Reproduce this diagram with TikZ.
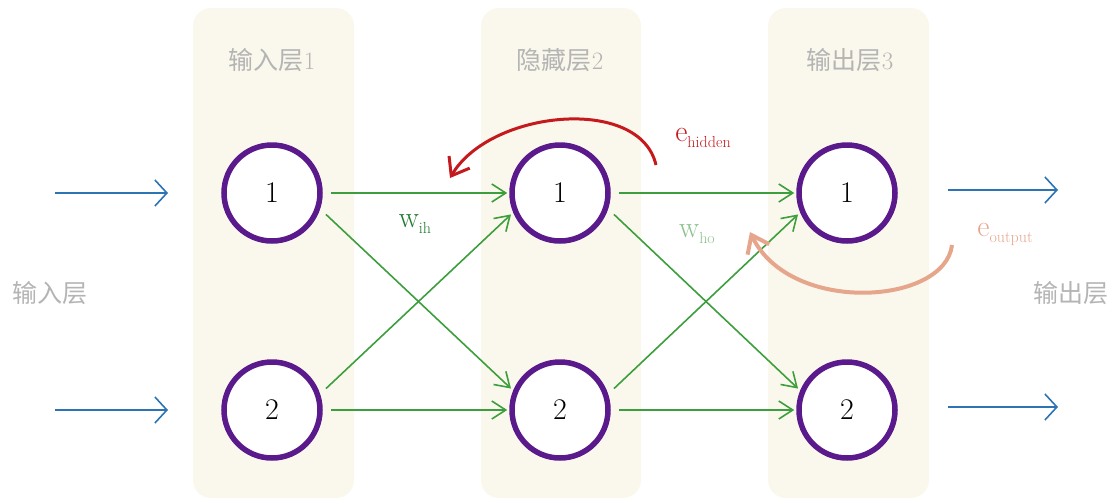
\documentclass[tikz,border=0pt]{standalone}
\usepackage{fontspec}
\newfontfamily\cjk{Noto Sans CJK SC}
\usetikzlibrary{arrows.meta}
\definecolor{panel}{HTML}{FAF8EC}
\definecolor{ttl}{HTML}{B4B4B4}
\definecolor{nodepurple}{HTML}{5A1A8C}
\definecolor{edgegreen}{HTML}{3C9E3C}
\definecolor{inblue}{HTML}{2C74B4}
\definecolor{errred}{HTML}{C41A1E}
\definecolor{errsalmon}{HTML}{E6A68C}
\definecolor{wihgreen}{HTML}{1E7A2E}
\definecolor{whogreen}{HTML}{8CC08C}
\newcommand{\biglbl}[2]{{\fontsize{30}{34}\selectfont #1}\raisebox{-6pt}{\fontsize{16}{18}\selectfont #2}}
\tikzset{
  panelbox/.style={fill=panel, draw=none, rounded corners=18pt},
  neuron/.style={circle, draw=nodepurple, line width=5.5pt, fill=white, minimum size=96pt, inner sep=0pt, font=\fontsize{30}{34}\selectfont},
  ttltext/.style={text=ttl, font=\fontsize{25}{28}\selectfont},
  sidetext/.style={text=ttl, font=\cjk\fontsize{25}{28}\selectfont},
  weight/.style={edgegreen, line width=1.6pt, -{Straight Barb[length=14pt,width=18pt,line width=1.6pt]}},
  ioarrow/.style={inblue, line width=1.6pt, -{Straight Barb[length=12pt,width=26pt,line width=1.6pt]}},
  errarrow/.style={line width=#1, -{Straight Barb[length=16pt,width=24pt,line width=#1]}},
}
\begin{document}
\begin{tikzpicture}[x=1pt,y=-1pt]
\useasboundingbox (0,0) rectangle (1114,501);
% panels
\fill[panelbox] (193,8) rectangle (354,498);
\fill[panelbox] (481,8) rectangle (641,498);
\fill[panelbox] (768,8) rectangle (929,498);
% titles
\node[ttltext] (t1) at (272,60) {{\cjk 输入层}1};
\node[ttltext] (t2) at (560,60) {{\cjk 隐藏层}2};
\node[ttltext] (t3) at (850,60) {{\cjk 输出层}3};
\node[sidetext] (lin) at (50,293) {输入层};
\node[sidetext] (lout) at (1071,293) {输出层};
% neurons
\node[neuron] (a1) at (272,193) {1};
\node[neuron] (a2) at (272,410) {2};
\node[neuron] (b1) at (560,193) {1};
\node[neuron] (b2) at (560,410) {2};
\node[neuron] (c1) at (847,193) {1};
\node[neuron] (c2) at (847,410) {2};
% input / output arrows
\coordinate (i1s) at (55,193);
\coordinate (i1e) at (168,193);
\coordinate (i2s) at (55,410);
\coordinate (i2e) at (168,410);
\coordinate (o1s) at (948,190);
\coordinate (o1e) at (1058,190);
\coordinate (o2s) at (948,407);
\coordinate (o2e) at (1058,407);
\draw[ioarrow] (i1s) -- (i1e);
\draw[ioarrow] (i2s) -- (i2e);
\draw[ioarrow] (o1s) -- (o1e);
\draw[ioarrow] (o2s) -- (o2e);
% weights
\draw[weight] ([xshift=8pt]a1.east) -- ([xshift=-2pt]b1.west);
\draw[weight] ([shift={(8pt,0)}]a1.-25) -- ([shift={(-3pt,0)}]b2.155);
\draw[weight] ([shift={(8pt,0)}]a2.25) -- ([shift={(-3pt,0)}]b1.-155);
\draw[weight] ([xshift=8pt]a2.east) -- ([xshift=-2pt]b2.west);
\draw[weight] ([xshift=8pt]b1.east) -- ([xshift=-2pt]c1.west);
\draw[weight] ([shift={(8pt,0)}]b1.-25) -- ([shift={(-3pt,0)}]c2.155);
\draw[weight] ([shift={(8pt,0)}]b2.25) -- ([shift={(-3pt,0)}]c1.-155);
\draw[weight] ([xshift=8pt]b2.east) -- ([xshift=-2pt]c2.west);
% weight labels
\node[text=wihgreen] (wih) at (415,224) {\biglbl{w}{ih}};
\node[text=whogreen] (who) at (697,234) {\biglbl{w}{ho}};
% error arrows
\coordinate (eh1) at (656,165);
\coordinate (eh2) at (450,178);
\draw[errred, errarrow=3pt] (eh1) .. controls (640,95) and (490,110) .. (eh2);
\coordinate (eo1) at (952,245);
\coordinate (eo2) at (750,232);
\draw[errsalmon, errarrow=4pt] (eo1) .. controls (945,305) and (790,315) .. (eo2);
\node[text=errred] (eh) at (703,138) {\biglbl{e}{hidden}};
\node[text=errsalmon] (eo) at (1005,234) {\biglbl{e}{output}};
\end{tikzpicture}
\end{document}
